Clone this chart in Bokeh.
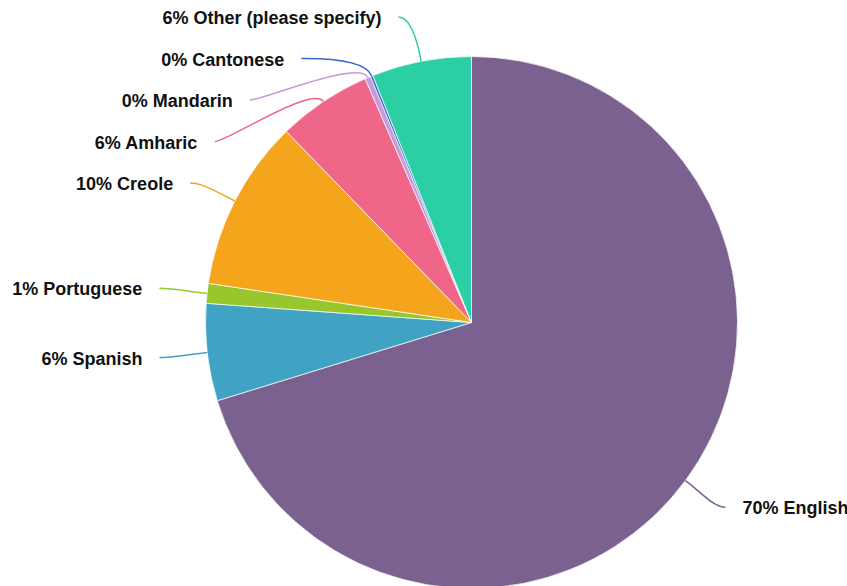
import math
from bokeh.plotting import figure
from bokeh.models import Range1d, ColumnDataSource
from bokeh.core.properties import value
from bokeh.embed import file_html
from bokeh.resources import INLINE

# ---- data (clockwise from 12 o'clock) ----
categories = ["English", "Spanish", "Portuguese", "Creole", "Amharic",
              "Mandarin", "Cantonese", "Other (please specify)"]
shares = [70.25, 5.9, 1.2, 10.4, 5.7, 0.35, 0.15, 6.05]
colors = ["#7B618F", "#40A3C3", "#97C72C", "#F5A51B", "#F06689",
          "#C49BDD", "#3A66CC", "#2CCFA4"]

# ---- layout constants (pixels) ----
W, H = 847, 586
CX, CY = 471, H - 322
R = 266
R_LABEL = 311
R_END = 314
SPACING = 41.5
GAP = 17

total = float(sum(shares))
starts, ends, mids = [], [], []
acc = 0.0
for s in shares:
    a0 = acc / total * 360.0
    acc += s
    a1 = acc / total * 360.0
    starts.append(math.pi / 2 - math.radians(a0))
    ends.append(math.pi / 2 - math.radians(a1))
    mids.append(math.pi / 2 - math.radians((a0 + a1) / 2))

labels = ["%d%% %s" % (round(s / total * 100), c) for s, c in zip(shares, categories)]

# label placement with simple collision avoidance per side
n = len(shares)
ly = [CY + R_LABEL * math.sin(t) for t in mids]
side = ["L" if math.cos(t) < 0 else "R" for t in mids]
for sd in ("L", "R"):
    idx = [i for i in range(n) if side[i] == sd]
    idx.sort(key=lambda i: -ly[i])
    prev = None
    for i in idx:
        if prev is None:
            ly[i] = min(ly[i], H - 12)
        else:
            ly[i] = min(ly[i], prev - SPACING)
        prev = ly[i]

ex, tx = [], []
for i in range(n):
    dy = ly[i] - CY
    dx = math.sqrt(max(R_END ** 2 - dy ** 2, 0))
    if side[i] == "L":
        ex.append(CX - dx)
        tx.append(CX - dx - GAP)
    else:
        ex.append(CX + dx)
        tx.append(CX + dx + GAP)

x0 = [CX + R * math.cos(t) for t in mids]
y0 = [CY + R * math.sin(t) for t in mids]
cx0 = [CX + (R + 20) * math.cos(t) for t in mids]
cy0 = [CY + (R + 20) * math.sin(t) for t in mids]
cx1 = [ex[i] + (12 if side[i] == "L" else -12) for i in range(n)]

src = ColumnDataSource(dict(start=starts, end=ends, color=colors))
lead = ColumnDataSource(dict(x0=x0, y0=y0, x1=ex, y1=ly, cx0=cx0, cy0=cy0,
                             cx1=cx1, cy1=ly, color=colors))

p = figure(width=W, height=H, x_range=Range1d(0, W), y_range=Range1d(0, H),
           output_backend="svg", toolbar_location=None, tools="",
           x_axis_location=None, y_axis_location=None, min_border=0,
           outline_line_color=None, background_fill_color="white",
           border_fill_color="white")
p.grid.visible = False

p.wedge(x=CX, y=CY, radius=R, start_angle="start", end_angle="end",
        direction="clock", fill_color="color", line_color="white",
        line_width=0.7, source=src)

p.bezier(x0="x0", y0="y0", x1="x1", y1="y1", cx0="cx0", cy0="cy0",
         cx1="cx1", cy1="cy1", line_color="color", line_width=1.5, source=lead)

for sd, align in (("L", "right"), ("R", "left")):
    idx = [i for i in range(n) if side[i] == sd]
    ts = ColumnDataSource(dict(x=[tx[i] for i in idx], y=[ly[i] - 1 for i in idx],
                               text=[labels[i] for i in idx]))
    p.text(x="x", y="y", text="text", source=ts, text_align=align,
           text_baseline="middle", text_font=value("Liberation Sans"),
           text_font_style="bold", text_font_size="18px", text_color="#111111")

open("out.html", "w").write(file_html(p, INLINE))
